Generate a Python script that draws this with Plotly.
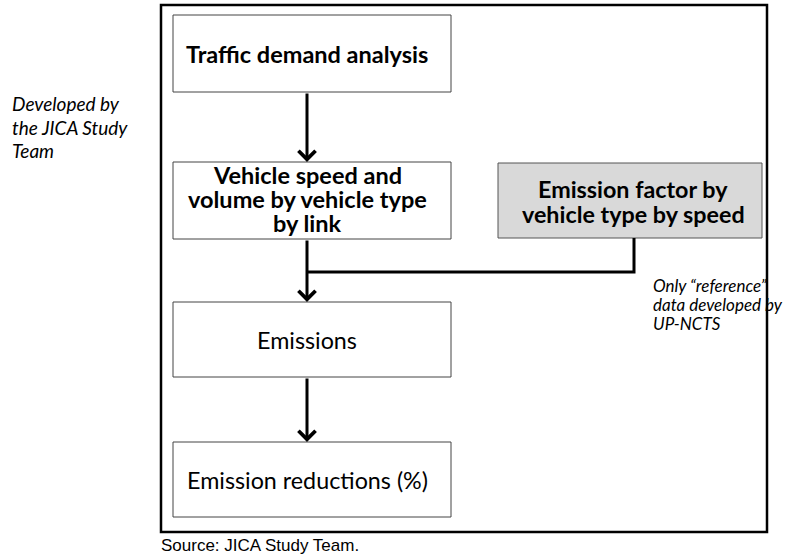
import plotly.graph_objects as go

# Flow steps (text content, one entry per printed line)
step_lines = [
    ["Traffic demand analysis"],
    ["Vehicle speed and", "volume by vehicle type", "by link"],
    ["Emissions"],
    ["Emission reductions (%)"],
]
step_bold = [True, True, False, False]
input_lines = ["Emission factor by", "vehicle type by speed"]
note_left_lines = ["Developed by", "the JICA Study", "Team"]
note_right_lines = ["Only \u201creference\u201d", "data developed by", "UP-NCTS"]
source_text = "Source: JICA Study Team."

W, H = 795, 556
FONT = "Lato, 'Open Sans', sans-serif"

# box geometry in page pixels (x0, y0, x1, y1)
step_boxes = [
    (173, 15, 451, 92),
    (173, 162, 451, 239),
    (173, 302, 451, 377),
    (173, 442, 451, 517),
]
step_text_y = [[54], [175, 199, 223], [340], [480]]
input_box = (498, 163, 762, 238)
input_text_y = [189, 214]
flow_x = 307

fig = go.Figure()
fig.add_trace(go.Scatter(x=[0, W], y=[0, H], mode="markers",
                         marker=dict(opacity=0), hoverinfo="skip", showlegend=False))

# outer frame
fig.add_shape(type="rect", x0=161, y0=5, x1=767, y1=532,
              line=dict(color="black", width=2.5), fillcolor="rgba(0,0,0,0)")


def add_lines(lines, x, ys, size, bold=False, italic=False, anchor="center"):
    for line, y in zip(lines, ys):
        txt = line
        if bold:
            txt = f"<b>{txt}</b>"
        if italic:
            txt = f"<i>{txt}</i>"
        fig.add_annotation(x=x, y=y, text=txt, showarrow=False,
                           xanchor=anchor, yanchor="middle",
                           font=dict(family=FONT, size=size, color="black"))


for (x0, y0, x1, y1), lines, ys, bold in zip(step_boxes, step_lines, step_text_y, step_bold):
    fig.add_shape(type="rect", x0=x0, y0=y0, x1=x1, y1=y1,
                  line=dict(color="#444444", width=1), fillcolor="white", layer="below")
    add_lines(lines, 307, ys, 23.5 if bold else 23.3, bold=bold)

x0, y0, x1, y1 = input_box
fig.add_shape(type="rect", x0=x0, y0=y0, x1=x1, y1=y1,
              line=dict(color="#555555", width=1), fillcolor="#d9d9d9", layer="below")
add_lines(input_lines, 633, input_text_y, 23.3, bold=True)

# connector from emission factor box into main flow
fig.add_shape(type="path", path=f"M 634 238 L 634 272 L {flow_x} 272",
              line=dict(color="black", width=3))

# vertical arrows between steps
for i in range(len(step_boxes) - 1):
    fig.add_annotation(x=flow_x, y=step_boxes[i + 1][1], ax=flow_x, ay=step_boxes[i][3],
                       xref="x", yref="y", axref="x", ayref="y", text="",
                       showarrow=True, arrowhead=4, arrowsize=1.1, arrowwidth=3,
                       arrowcolor="black", standoff=0, startstandoff=0)

add_lines(note_left_lines, 10, [103, 127, 150], 19, italic=True, anchor="left")
add_lines(note_right_lines, 651, [285, 304, 323], 17, italic=True, anchor="left")

fig.add_annotation(x=159, y=545, text=source_text, showarrow=False,
                   xanchor="left", yanchor="middle",
                   font=dict(family="'Liberation Sans', Arial, sans-serif", size=17, color="black"))

fig.update_xaxes(range=[0, W], visible=False, fixedrange=True)
fig.update_yaxes(range=[H, 0], visible=False, fixedrange=True)
fig.update_layout(width=W, height=H, margin=dict(l=0, r=0, t=0, b=0),
                  paper_bgcolor="white", plot_bgcolor="white", showlegend=False)

fig.write_html("out.html", config={"displayModeBar": False},
               post_script="document.body.style.margin='0';")
